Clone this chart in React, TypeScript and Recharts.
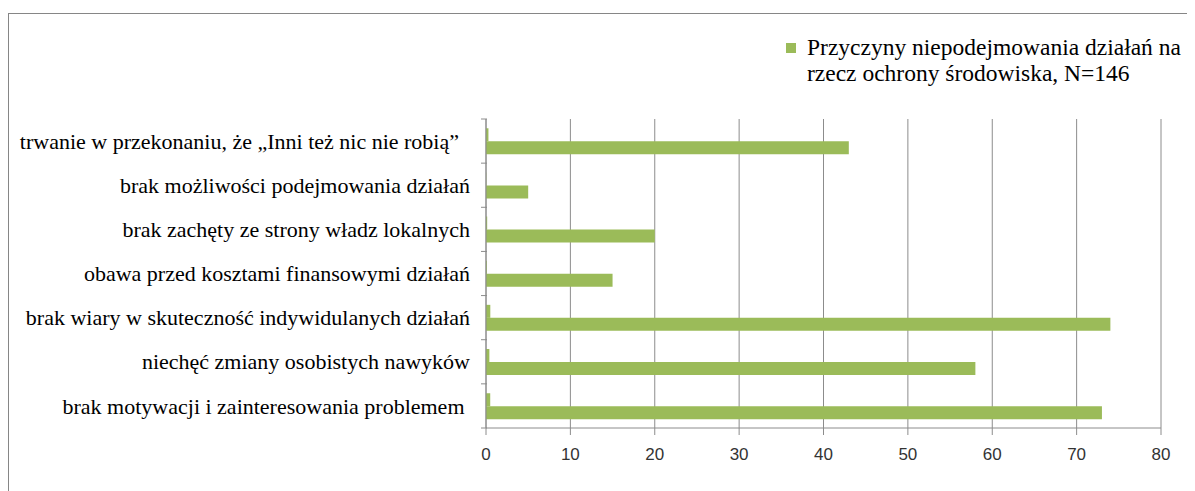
import React from "react";
import { BarChart, Bar, XAxis, YAxis, CartesianGrid } from "recharts";

// Kategorie od góry do dołu (kolejność jak na wykresie)
const categories = [
  "trwanie w przekonaniu, że „Inni też nic nie robią”  ",
  "brak możliwości podejmowania działań",
  "brak zachęty ze strony władz lokalnych",
  "obawa przed kosztami finansowymi działań",
  "brak wiary w skuteczność indywidulanych działań",
  "niechęć zmiany osobistych nawyków",
  "brak motywacji i zainteresowania problemem ",
];

// liczba wskazań, N=146
const counts = [43, 5, 20, 15, 74, 58, 73];
// udział (ułamek) – druga, niemal niewidoczna seria
const shares = [0.29, 0.03, 0.14, 0.1, 0.51, 0.4, 0.5];

const xTicks = [0, 10, 20, 30, 40, 50, 60, 70, 80];
const seriesName = "Przyczyny niepodejmowania działań na rzecz ochrony środowiska, N=146";

const GREEN = "#9BBB59";
const GRID = "#8C8C8C";
const SERIF = "'Liberation Serif', 'Times New Roman', serif";

const W = 1187;
const H = 483;
const X_AXIS_H = 30;
const MARGIN = { top: 111, right: 34, bottom: 33, left: 0 };
const Y_AXIS_W = 478;
const BAND = (H - MARGIN.top - MARGIN.bottom - X_AXIS_H) / categories.length;

const data = categories.map((name, i) => ({ name, share: shares[i], count: counts[i] }));

function CategoryTick(props: any) {
  const { x, y, payload, index } = props;
  const last = index === categories.length - 1;
  return (
    <g>
      <line x1={x + 3} x2={x + 9} y1={y - BAND / 2} y2={y - BAND / 2} stroke={GRID} />
      {last && <line x1={x + 3} x2={x + 9} y1={y + BAND / 2} y2={y + BAND / 2} stroke={GRID} />}
      <text
        x={x - 8}
        y={y}
        dy="0.35em"
        textAnchor="end"
        fill="#000"
        fontSize={22}
        xmlSpace="preserve"
        style={{ whiteSpace: "pre", fontFamily: SERIF }}
      >
        {payload.value}
      </text>
    </g>
  );
}

export default function App() {
  return (
    <div style={{ position: "relative", width: W, height: H }}>
      <div
        style={{
          position: "absolute",
          left: 0,
          top: 5,
          width: 1300,
          height: 600,
          border: "1px solid #868686",
          boxSizing: "border-box",
        }}
      />
      <div style={{ position: "absolute", left: 0, top: 0 }}>
        <BarChart
          width={W}
          height={H}
          data={data}
          layout="vertical"
          margin={MARGIN}
          barCategoryGap="21%"
          barGap={0}
        >
          <CartesianGrid horizontal={false} stroke={GRID} />
          <XAxis
            type="number"
            domain={[0, 80]}
            ticks={xTicks}
            height={X_AXIS_H}
            stroke={GRID}
            tickSize={7}
            tick={{ fill: "#333", fontSize: 17, fontFamily: "'Liberation Sans', Arial, sans-serif" }}
            tickMargin={13}
          />
          <YAxis
            type="category"
            dataKey="name"
            width={Y_AXIS_W}
            stroke={GRID}
            tickLine={false}
            tick={<CategoryTick />}
            interval={0}
          />
          <Bar dataKey="share" fill={GREEN} isAnimationActive={false} legendType="none" />
          <Bar dataKey="count" fill={GREEN} isAnimationActive={false} name={seriesName} />
        </BarChart>
      </div>
      {/* legenda – tylko jedna seria, jak w oryginale */}
      <div
        style={{
          position: "absolute",
          left: 778,
          top: 26,
          display: "flex",
          alignItems: "flex-start",
          fontFamily: SERIF,
          fontSize: 23.5,
          lineHeight: "26px",
          color: "#000",
        }}
      >
        <span style={{ width: 10, height: 10, background: GREEN, marginTop: 9, marginRight: 11, flexShrink: 0 }} />
        <span style={{ width: 395 }}>{seriesName}</span>
      </div>
    </div>
  );
}
